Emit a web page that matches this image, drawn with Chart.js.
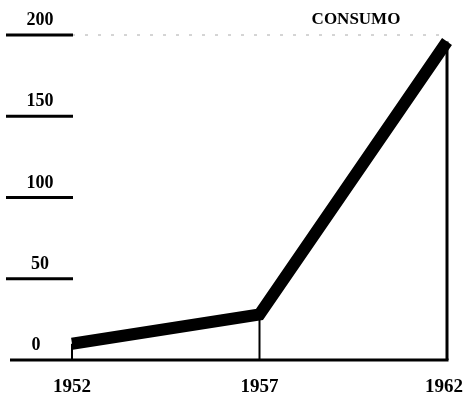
<!DOCTYPE html>
<html>
<head>
<meta charset="utf-8">
<script src="https://cdn.jsdelivr.net/npm/chart.js@4/dist/chart.umd.min.js"></script>
<style>
  html, body { margin: 0; padding: 0; background: #fff; }
  canvas { display: block; }
</style>
</head>
<body>
<canvas id="c" width="466" height="397"></canvas>
<script>
// Consumption over three census years
const years = [1952, 1957, 1962];
const consumo = [10, 28, 196];
const yTicks = [0, 50, 100, 150, 200];
const title = 'CONSUMO';

const serif = '"Liberation Serif", "DejaVu Serif", serif';

// Draws the stems, baseline, left tick marks with their labels and the year labels
const decor = {
  id: 'decor',
  beforeDatasetsDraw(chart) {
    const { ctx, scales: { x, y } } = chart;
    ctx.save();
    // faint dotted guide at the top value
    ctx.setLineDash([3, 10]);
    ctx.lineWidth = 1;
    ctx.strokeStyle = '#aaa';
    ctx.beginPath();
    ctx.moveTo(x.getPixelForValue(years[0]), y.getPixelForValue(200));
    ctx.lineTo(x.getPixelForValue(years[years.length - 1]), y.getPixelForValue(200));
    ctx.stroke();
    ctx.setLineDash([]);
    ctx.strokeStyle = '#000';

    // vertical stems from each point to the baseline
    years.forEach((yr, i) => {
      const px = x.getPixelForValue(yr);
      ctx.lineWidth = i === years.length - 1 ? 3 : 2;
      ctx.beginPath();
      ctx.moveTo(px, y.getPixelForValue(consumo[i]));
      ctx.lineTo(px, y.getPixelForValue(0));
      ctx.stroke();
    });

    // baseline
    ctx.lineWidth = 3;
    ctx.beginPath();
    ctx.moveTo(10, y.getPixelForValue(0));
    ctx.lineTo(x.getPixelForValue(years[years.length - 1]) + 1.5, y.getPixelForValue(0));
    ctx.stroke();

    // left tick underlines and labels
    ctx.fillStyle = '#000';
    ctx.textAlign = 'center';
    ctx.textBaseline = 'alphabetic';
    ctx.font = 'bold 18px ' + serif;
    yTicks.forEach(v => {
      const py = y.getPixelForValue(v);
      if (v !== 0) {
        ctx.lineWidth = 3;
        ctx.beginPath();
        ctx.moveTo(6, py);
        ctx.lineTo(73, py);
        ctx.stroke();
      }
      ctx.fillText(String(v), v === 0 ? 36 : 40, py - 10);
    });

    // year labels
    ctx.font = 'bold 19px ' + serif;
    years.forEach((yr, i) => {
      let px = x.getPixelForValue(yr);
      if (i === years.length - 1) px -= 3;
      ctx.fillText(String(yr), px, y.getPixelForValue(0) + 32);
    });

    // title
    ctx.font = 'bold 17px ' + serif;
    ctx.fillText(title, 356, 24);
    ctx.restore();
  }
};

new Chart(document.getElementById('c'), {
  type: 'line',
  data: {
    datasets: [{
      data: years.map((yr, i) => ({ x: yr, y: consumo[i] })),
      borderColor: '#000',
      borderWidth: 12,
      borderCapStyle: 'butt',
      borderJoinStyle: 'miter',
      pointRadius: 0,
      tension: 0,
      fill: false,
      clip: false
    }]
  },
  options: {
    responsive: false,
    animation: false,
    layout: { padding: { left: 72, right: 19, top: 35, bottom: 37 } },
    plugins: { legend: { display: false }, tooltip: { enabled: false } },
    scales: {
      x: { type: 'linear', min: 1952, max: 1962, display: false },
      y: { min: 0, max: 200, display: false }
    }
  },
  plugins: [decor]
});
</script>
</body>
</html>
